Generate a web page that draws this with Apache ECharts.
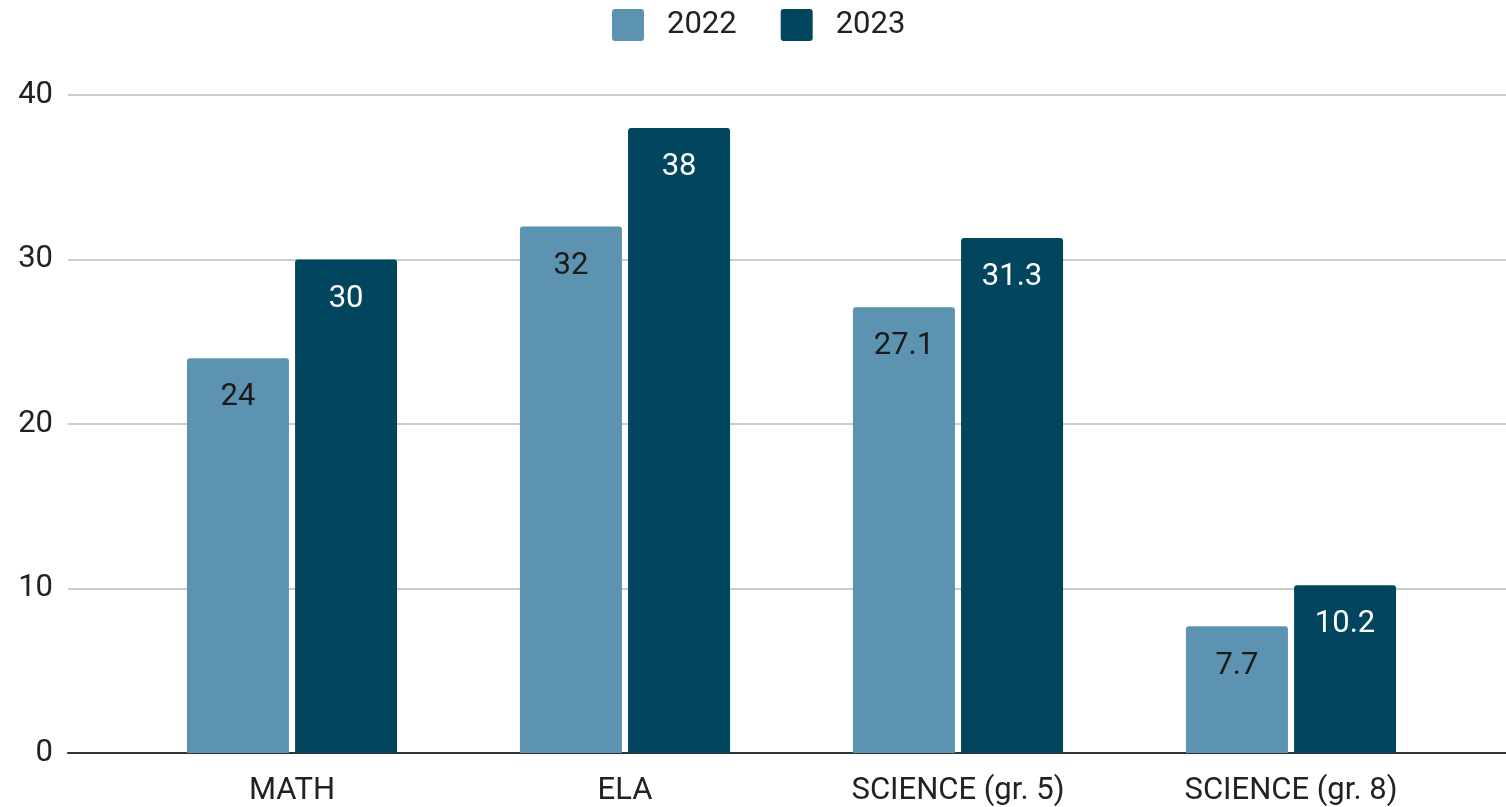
<!DOCTYPE html>
<html>
<head>
<meta charset="utf-8">
<script src="https://cdn.jsdelivr.net/npm/echarts@6/dist/echarts.min.js"></script>
<style>
html,body{margin:0;padding:0;background:#fff;}
#chart{width:1506px;height:807px;}
</style>
</head>
<body>
<div id="chart"></div>
<script>
const categories = ['MATH', 'ELA', 'SCIENCE (gr. 5)', 'SCIENCE (gr. 8)'];
const values2022 = [24, 32, 27.1, 7.7];
const values2023 = [30, 38, 31.3, 10.2];
const seriesNames = ['2022', '2023'];
const yTicks = [0, 10, 20, 30, 40];

const FONT = 'Roboto';
const FS = 31;
const ICON = 'path://M3,0 L29,0 Q32,0 32,3 L32,29 Q32,32 29,32 L3,32 Q0,32 0,29 L0,3 Q0,0 3,0 Z';
const chart = echarts.init(document.getElementById('chart'), null, {renderer: 'canvas'});
const option = {
  animation: false,
  textStyle: {fontFamily: FONT},
  legend: {
    data: seriesNames,
    top: 4,
    left: 607,
    icon: ICON,
    itemWidth: 32,
    itemHeight: 32,
    itemGap: 44,
    textStyle: {fontFamily: FONT, fontSize: FS, color: '#222', padding: [0, 0, 0, 18]}
  },
  grid: [
    {left: 68, right: 0, top: 95, bottom: 54},
    {left: 125.5, right: 48.5, top: 95, bottom: 54}
  ],
  xAxis: [
    {
      gridIndex: 0, type: 'value', min: 0, max: 1,
      axisLine: {show: true, onZero: false, lineStyle: {color: '#333', width: 2}},
      axisTick: {show: false}, axisLabel: {show: false}, splitLine: {show: false}
    },
    {
      gridIndex: 1, type: 'category', data: categories,
      axisLine: {show: false}, axisTick: {show: false},
      axisLabel: {fontFamily: FONT, fontSize: FS, color: '#222', margin: 23}
    }
  ],
  yAxis: [
    {
      gridIndex: 0, type: 'value', min: yTicks[0], max: yTicks[yTicks.length - 1], interval: 10,
      axisLine: {show: false}, axisTick: {show: false},
      axisLabel: {fontFamily: FONT, fontSize: FS, color: '#222', margin: 15},
      splitLine: {lineStyle: {color: '#cccccc', width: 2}}
    },
    {
      gridIndex: 1, type: 'value', min: yTicks[0], max: yTicks[yTicks.length - 1], interval: 10,
      show: false, splitLine: {show: false}
    }
  ],
  series: [
    {
      name: seriesNames[0], type: 'bar', xAxisIndex: 1, yAxisIndex: 1,
      data: values2022, barWidth: 102, barGap: '6%',
      itemStyle: {color: '#5b93b0', borderRadius: [3, 3, 0, 0]},
      label: {show: true, position: 'insideTop', distance: 24, fontFamily: FONT, fontSize: FS, color: '#1a1a1a'}
    },
    {
      name: seriesNames[1], type: 'bar', xAxisIndex: 1, yAxisIndex: 1,
      data: values2023, barWidth: 102, barGap: '6%',
      itemStyle: {color: '#02455f', borderRadius: [3, 3, 0, 0]},
      label: {show: true, position: 'insideTop', distance: 24, fontFamily: FONT, fontSize: FS, color: '#ffffff'}
    }
  ]
};
chart.setOption(option);
</script>
</body>
</html>
